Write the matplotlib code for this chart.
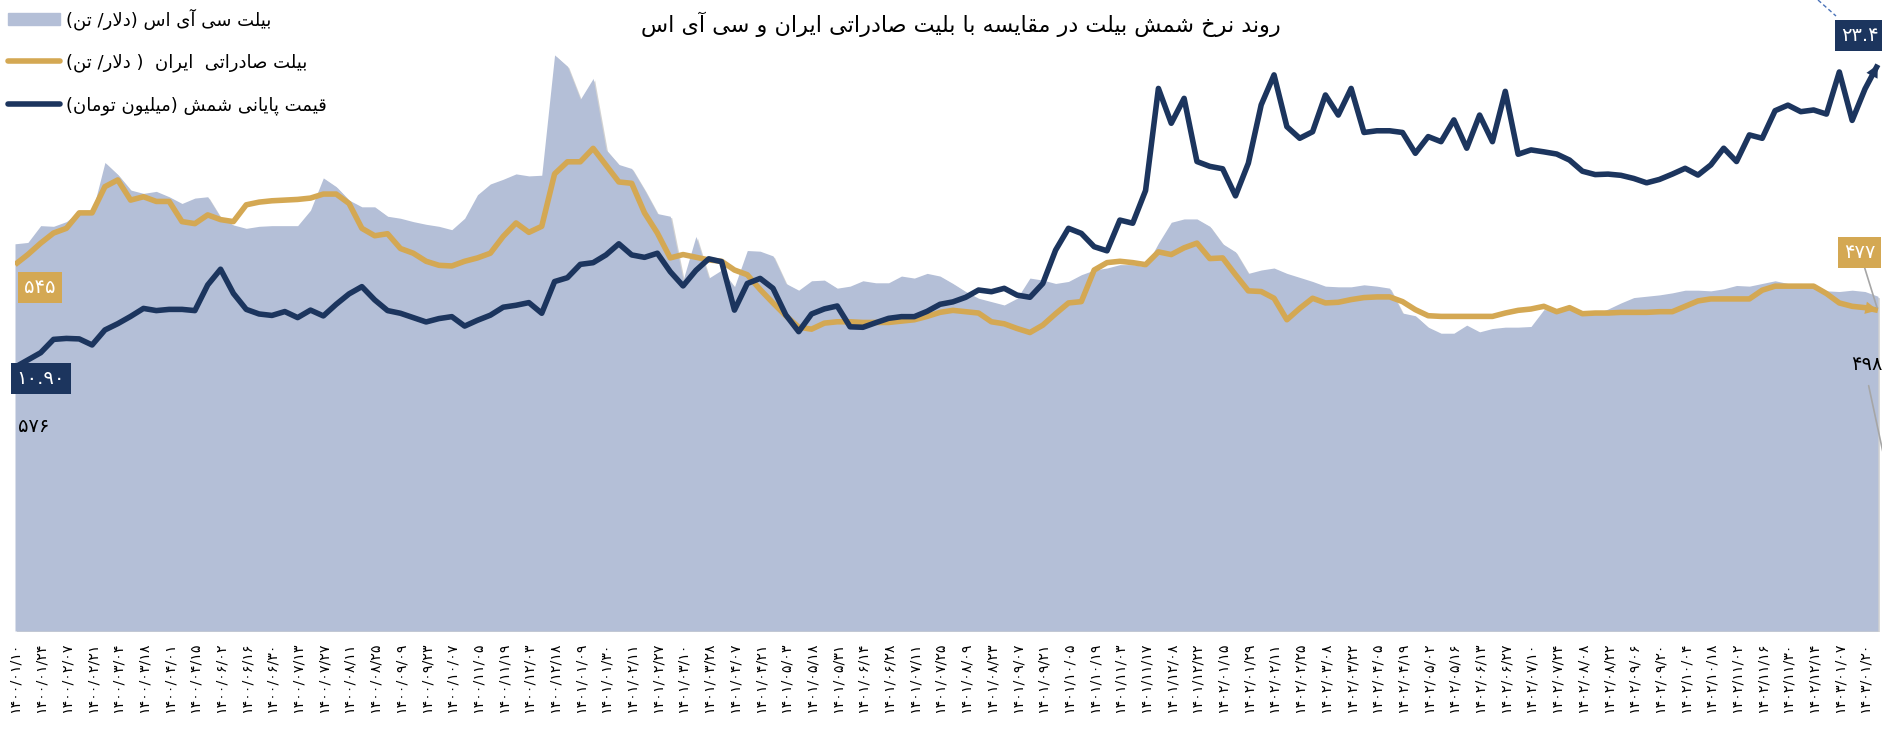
import matplotlib
matplotlib.use('Agg')
import matplotlib.pyplot as plt
import matplotlib.transforms as mtransforms
from matplotlib.patches import Patch
from matplotlib.lines import Line2D

plt.rcParams['font.family'] = ['DejaVu Sans']

# x axis labels (one label on every second point)
dates = [
    '1400/01/10', '1400/01/24', '1400/02/07', '1400/02/21', '1400/03/04', '1400/03/18',
    '1400/04/01', '1400/04/15', '1400/06/02', '1400/06/16', '1400/06/30', '1400/07/13',
    '1400/07/27', '1400/08/11', '1400/08/25', '1400/09/09', '1400/09/23', '1400/10/07',
    '1400/11/05', '1400/11/19', '1400/12/03', '1400/12/18',
    '1401/01/09', '1401/01/30', '1401/02/11', '1401/02/27', '1401/03/10', '1401/03/28',
    '1401/04/07', '1401/04/21', '1401/05/03', '1401/05/18', '1401/05/31', '1401/06/14',
    '1401/06/28', '1401/07/11', '1401/07/25', '1401/08/09', '1401/08/23', '1401/09/07',
    '1401/09/21', '1401/10/05', '1401/10/19', '1401/11/03', '1401/11/17', '1401/12/08',
    '1401/12/22',
    '1402/01/15', '1402/01/29', '1402/02/11', '1402/02/25', '1402/03/08', '1402/03/22',
    '1402/04/05', '1402/04/19', '1402/05/02', '1402/05/16', '1402/06/13', '1402/06/27',
    '1402/07/10', '1402/07/24', '1402/08/08', '1402/08/22', '1402/09/06', '1402/09/20',
    '1402/10/04', '1402/10/18', '1402/11/02', '1402/11/16', '1402/11/30', '1402/12/14',
    '1403/01/07', '1403/01/20',
]

# CIS billet ($/t) - area
cis = [576, 578, 603, 602, 609, 624, 622, 697, 679, 656, 651, 654, 646, 636, 644, 646, 615, 604, 599, 602,
       603, 603, 603, 626, 674, 661, 641, 631, 631, 617, 614, 609, 605, 602, 597, 614, 649, 665, 672, 680,
       677, 678, 857, 840, 791, 822, 716, 694, 688, 656, 621, 617, 522, 587, 525, 537, 512, 566, 565, 558,
       517, 507, 521, 522, 510, 513, 521, 518, 518, 528, 525, 532, 528, 517, 505, 495, 490, 485, 495, 525,
       522, 517, 520, 530, 537, 540, 545, 545, 542, 577, 608, 613, 613, 602, 576, 564, 532, 537, 540, 532,
       526, 520, 513, 512, 512, 515, 513, 510, 473, 469, 452, 443, 443, 455, 445, 450, 452, 452, 453, 478,
       478, 483, 475, 472, 479, 488, 496, 498, 500, 503, 507, 507, 506, 509, 514, 513, 517, 521, 517, 517,
       516, 506, 505, 507, 505, 498]

# Iran export billet ($/t)
iran = [545, 560, 577, 592, 599, 622, 622, 661, 671, 641, 646, 639, 639, 609, 606, 619, 612, 609, 634, 638,
        640, 641, 642, 644, 650, 650, 636, 599, 588, 591, 569, 562, 550, 544, 543, 550, 555, 562, 587, 607,
        593, 602, 680, 698, 698, 718, 693, 668, 666, 622, 592, 555, 560, 556, 552, 550, 537, 530, 508, 488,
        469, 452, 449, 458, 460, 460, 459, 459, 459, 461, 463, 468, 474, 477, 475, 473, 460, 457, 450, 444,
        455, 472, 488, 490, 537, 548, 550, 548, 545, 564, 560, 570, 577, 554, 555, 530, 506, 505, 495, 463,
        480, 495, 488, 489, 493, 496, 497, 497, 490, 478, 469, 468, 468, 468, 468, 468, 473, 477, 479, 483,
        475, 481, 472, 473, 473, 474, 474, 474, 475, 475, 483, 491, 494, 494, 494, 494, 507, 513, 513, 513,
        513, 502, 488, 483, 481, 477]

# ingot closing price (million toman) - secondary axis
shamsh = [10.90, 11.2, 11.5, 12.05, 12.09, 12.07, 11.82, 12.44, 12.7, 13.0, 13.33, 13.24, 13.29, 13.29, 13.24,
          14.3, 14.95, 13.95, 13.29, 13.1, 13.04, 13.2, 12.95, 13.26, 13.02, 13.5, 13.93, 14.23, 13.68, 13.24,
          13.13, 12.95, 12.77, 12.91, 12.99, 12.6, 12.84, 13.05, 13.38, 13.46, 13.57, 13.13, 14.44, 14.6, 15.15,
          15.22, 15.54, 16.0, 15.54, 15.44, 15.61, 14.85, 14.26, 14.9, 15.38, 15.26, 13.26, 14.36, 14.57, 14.16,
          13.06, 12.37, 13.1, 13.31, 13.43, 12.57, 12.55, 12.74, 12.92, 12.99, 12.99, 13.21, 13.5, 13.6, 13.79,
          14.09, 14.02, 14.16, 13.88, 13.79, 14.36, 15.74, 16.64, 16.43, 15.88, 15.71, 16.98, 16.85, 18.2, 22.42,
          20.98, 22.01, 19.4, 19.2, 19.1, 17.98, 19.33, 21.74, 22.98, 20.84, 20.36, 20.63, 22.15, 21.32, 22.42,
          20.6, 20.67, 20.67, 20.6, 19.74, 20.43, 20.22, 21.12, 19.95, 21.32, 20.22, 22.3, 19.7, 19.88, 19.8,
          19.71, 19.46, 19.0, 18.86, 18.88, 18.83, 18.7, 18.52, 18.66, 18.88, 19.12, 18.84, 19.26, 19.95, 19.4,
          20.5, 20.36, 21.5, 21.73, 21.46, 21.53, 21.36, 23.1, 21.1, 22.4, 23.40]

title = 'روند نرخ شمش بیلت در مقایسه با بلیت صادراتی ایران و سی آی اس'
names = ['بیلت سی آی اس (دلار/ تن)',
         'بیلت صادراتی  ایران  ( دلار/ تن)',
         'قیمت پایانی شمش (میلیون تومان)']

area_c = '#b4bfd7'
gold = '#d4a853'
navy = '#1c355e'

# matplotlib has no arabic shaping, so pick the presentation forms by hand
# (isolated, final, initial, medial)
FORMS = {
    'ا': (0xFE8D, 0xFE8E, None, None), 'آ': (0xFE81, 0xFE82, None, None),
    'ب': (0xFE8F, 0xFE90, 0xFE91, 0xFE92), 'پ': (0xFB56, 0xFB57, 0xFB58, 0xFB59),
    'ت': (0xFE95, 0xFE96, 0xFE97, 0xFE98), 'خ': (0xFEA5, 0xFEA6, 0xFEA7, 0xFEA8),
    'د': (0xFEA9, 0xFEAA, None, None), 'ر': (0xFEAD, 0xFEAE, None, None),
    'س': (0xFEB1, 0xFEB2, 0xFEB3, 0xFEB4), 'ش': (0xFEB5, 0xFEB6, 0xFEB7, 0xFEB8),
    'ص': (0xFEB9, 0xFEBA, 0xFEBB, 0xFEBC), 'ق': (0xFED5, 0xFED6, 0xFED7, 0xFED8),
    'ل': (0xFEDD, 0xFEDE, 0xFEDF, 0xFEE0), 'م': (0xFEE1, 0xFEE2, 0xFEE3, 0xFEE4),
    'ن': (0xFEE5, 0xFEE6, 0xFEE7, 0xFEE8), 'ه': (0xFEE9, 0xFEEA, 0xFEEB, 0xFEEC),
    'و': (0xFEED, 0xFEEE, None, None), 'ی': (0xFBFC, 0xFBFD, 0xFBFE, 0xFBFF),
}
LAMALEF = {'ا': (0xFEFB, 0xFEFC), 'آ': (0xFEF5, 0xFEF6)}


def fa(text):
    out = []
    i = 0
    while i < len(text):
        c = text[i]
        if c not in FORMS:
            out.append(c)
            i += 1
            continue
        prev = text[i - 1] if i > 0 else ''
        nxt = text[i + 1] if i + 1 < len(text) else ''
        joined_prev = prev in FORMS and FORMS[prev][2] is not None
        if c == 'ل' and nxt in LAMALEF:
            out.append(chr(LAMALEF[nxt][1 if joined_prev else 0]))
            i += 2
            continue
        iso, fin, ini, med = FORMS[c]
        joined_next = ini is not None and nxt in FORMS
        if joined_prev and joined_next:
            f = med
        elif joined_prev:
            f = fin
        elif joined_next:
            f = ini
        else:
            f = iso
        out.append(chr(f))
        i += 1
    # right to left: reverse and mirror the brackets
    return ''.join(reversed(out)).translate(str.maketrans('()', ')('))


def fa_num(s):
    return str(s).translate(str.maketrans('0123456789', '۰۱۲۳۴۵۶۷۸۹'))


W, H = 1883, 732
fig = plt.figure(figsize=(W / 100, H / 100), dpi=100)
ax = fig.add_axes([15 / W, 1 - 631 / H, (W - 15) / W, (631 - 26) / H])
ax2 = ax.twinx()

x = list(range(len(cis)))

# area with a soft shadow
shadow = ax.transData + mtransforms.ScaledTranslation(0.015, -0.015, fig.dpi_scale_trans)
ax.fill_between(x, cis, 0, color='#808080', alpha=0.35, lw=0, transform=shadow, zorder=1)
ax.fill_between(x, cis, 0, color=area_c, lw=0, zorder=2)
ax.plot(x, iran, color=gold, lw=4, solid_joinstyle='round', solid_capstyle='butt', zorder=3)
ax2.plot(x, shamsh, color=navy, lw=4, solid_joinstyle='round', solid_capstyle='butt', zorder=3)

# arrow heads at the end of the lines
ax.annotate('', xy=(x[-1], iran[-1]), xytext=(x[-2], iran[-2]),
            arrowprops=dict(arrowstyle='-|>,head_length=0.9,head_width=0.45', color=gold,
                            lw=0, shrinkA=0, shrinkB=0, mutation_scale=10), zorder=4)
ax2.annotate('', xy=(x[-1], shamsh[-1]), xytext=(x[-2], shamsh[-2]),
             arrowprops=dict(arrowstyle='-|>,head_length=0.9,head_width=0.45', color=navy,
                             lw=0, shrinkA=0, shrinkB=0, mutation_scale=10), zorder=4)

ax.set_xlim(0, 145.4)
ax.set_ylim(0, 900)
ax2.set_ylim(0, 25)
for a in (ax, ax2):
    for s in a.spines.values():
        s.set_visible(False)
    a.set_yticks([])
ax.set_xticks(x[::2])
ax.set_xticklabels([fa_num(d) for d in dates], rotation=90, fontsize=10.3)
ax.tick_params(axis='x', length=0, pad=8)

# data labels
box = dict(boxstyle='square,pad=0.3', lw=0)
ax2.annotate(fa_num(iran[0]), xy=(x[0], iran[0]), xycoords=ax.transData,
             xytext=(25, -23), textcoords='offset pixels', ha='center', va='center',
             color='white', fontsize=14, bbox=dict(box, fc=gold))
ax2.annotate(fa_num(f'{shamsh[0]:.2f}'), xy=(x[0], shamsh[0]),
             xytext=(26, -11), textcoords='offset pixels', ha='center', va='center',
             color='white', fontsize=14, bbox=dict(box, fc=navy))
ax2.annotate(fa_num(cis[0]), xy=(x[0], cis[0]), xycoords=ax.transData,
             xytext=(19, -183), textcoords='offset pixels', ha='center', va='center',
             color='black', fontsize=14)
ax2.annotate(fa_num(iran[-1]), xy=(x[-1], iran[-1]), xycoords=ax.transData,
             xytext=(-18, 58), textcoords='offset pixels', ha='center', va='center',
             color='white', fontsize=14, bbox=dict(box, fc=gold),
             arrowprops=dict(arrowstyle='-', color='#a6a6a6', lw=1.2, shrinkA=0, shrinkB=2))
ax2.annotate(fa_num(f'{shamsh[-1]:.1f}'), xy=(x[-1], shamsh[-1]),
             xytext=(-37, 29), textcoords='offset pixels', ha='left', va='center',
             color='white', fontsize=14, bbox=dict(box, fc=navy))
ax2.annotate(fa_num(cis[-1]), xy=(x[-1], cis[-1]), xycoords=ax.transData,
             xytext=(-11, -68), textcoords='offset pixels', ha='center', va='center',
             color='black', fontsize=14)
# leader lines that run off the picture
ax2.annotate('', xy=(1.008, 0.18), xycoords='axes fraction', xytext=(0.992, 0.41),
             arrowprops=dict(arrowstyle='-', color='#a6a6a6', lw=1.2))
fig.add_artist(Line2D([1818 / W, 1836 / W], [1.0, 1 - 16 / H], transform=fig.transFigure,
                      color='#4a72b8', lw=1, ls=(0, (3, 2))))

fig.text(961 / W, 1 - 24 / H, fa(title), ha='center', va='center', fontsize=16)

handles = [Patch(color=area_c),
           Line2D([], [], color=gold, lw=4, solid_capstyle='round'),
           Line2D([], [], color=navy, lw=4, solid_capstyle='round')]
fig.legend(handles, [fa(n) for n in names], loc='upper left', bbox_to_anchor=(8 / W, 1 - 8 / H),
           frameon=False, fontsize=13, handlelength=2.9, handletextpad=0.3, labelspacing=1.32,
           borderpad=0, borderaxespad=0)

fig.savefig('out.png', dpi=100)
